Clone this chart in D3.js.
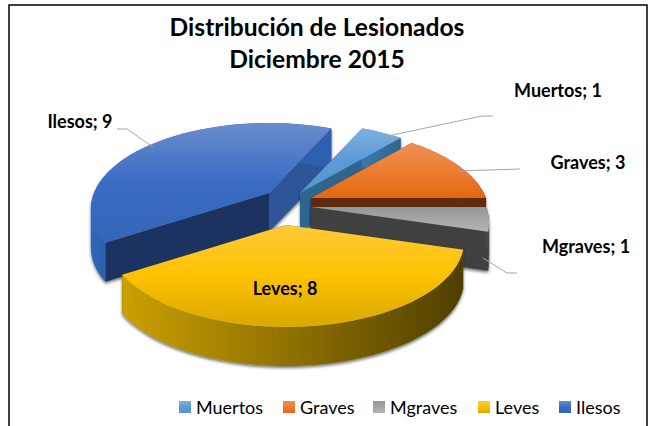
<!DOCTYPE html>
<html>
<head>
<meta charset="utf-8">
<script src="https://cdnjs.cloudflare.com/ajax/libs/d3/7.8.5/d3.min.js"></script>
<style>
  html, body { margin: 0; padding: 0; background: #fff; }
  svg { display: block; }
  text { font-family: Lato, "Open Sans", sans-serif; fill: #000; }
</style>
</head>
<body>
<svg id="chart" width="659" height="426"></svg>
<script>
// chart data
const categories = ["Muertos", "Graves", "Mgraves", "Leves", "Ilesos"]
const values = [1, 3, 1, 8, 9]
const titleLines = ["Distribución de Lesionados", "Diciembre 2015"]

// top face: light, mid, low stops
const topColors = [
    ["#7fb0de", "#5b9bd5", "#5596d2"],
    ["#ee9055", "#ed7d31", "#e2680f"],
    ["#969696", "#a5a5a5", "#b4b4b4"],
    ["#ffca38", "#fdc200", "#d9a900"],
    ["#6b8ccc", "#3a6cc4", "#3565b8"]
]
// outer rim: left colour, right colour
const rimColors = [
    ["#3a77ad", "#2f6690"],
    ["#6b330a", "#5e2a08"],
    ["#4a4a4a", "#404040"],
    ["#cba000", "#4f3f00"],
    ["#2f66bd", "#2f5fae"]
]
// cut walls: the one at the slice start, the one at the slice end
const wallColors = [
    ["#2f6690", "#2f6690"],
    ["#5e2a08", "#5e2a08"],
    ["#404040", "#404040"],
    ["#7a6000", "#7a6000"],
    ["#1b3360", "#2f5597"]
]
// where the tip of each exploded slice lands
const tips = [[300, 193], [311, 198], [311, 207], [286, 225], [269, 193]]
const paintOrder = [4, 0, 1, 2, 3]

const labels = [
    {i: 0, x: 558, y: 97},
    {i: 1, x: 588, y: 169},
    {i: 2, x: 586, y: 253},
    {i: 3, x: 285, y: 295},
    {i: 4, x: 80, y: 128}
]
const leaders = [
    [[383, 137], [482, 116], [493, 116]],
    [[458, 171], [520, 169]],
    [[483, 258], [507, 273], [517, 273]],
    [[153, 147], [127, 129], [117, 129]]
]
const legendX = [179, 283, 373, 478, 559]

const radius = 175
const tiltY = 83
const persp = 0.186
const depth = 39

const svg = d3.select("#chart")
const defs = svg.append("defs")

defs.append("filter")
    .attr("id", "soft")
    .attr("x", "-10%").attr("y", "-10%")
    .attr("width", "120%").attr("height", "125%")
    .append("feDropShadow")
    .attr("dx", 0).attr("dy", 2)
    .attr("stdDeviation", 1.8)
    .attr("flood-color", "#000")
    .attr("flood-opacity", 0.55)

// frame
svg.append("path")
    .attr("d", "M9,426V5H647V426")
    .attr("fill", "none")
    .attr("stroke", "#000")
    .attr("stroke-width", 1.5)

svg.selectAll("text.title")
    .data(titleLines)
    .join("text")
    .attr("class", "title")
    .attr("x", 317)
    .attr("y", (d, i) => 36 + i * 32)
    .attr("text-anchor", "middle")
    .attr("font-size", 24.6)
    .attr("font-weight", 700)
    .text((d) => d)

const pie = d3.pie().sort(null).startAngle(24.6 * Math.PI / 180).endAngle((360 + 24.6) * Math.PI / 180)
const arcs = pie(values)

// pie angle -> page position, flattened and shrunk towards the back
var project = function(tip, angle, r, drop) {
    const u = Math.sin(angle) * r
    const v = Math.cos(angle) * r
    const f = 1 / (1 + persp * v)
    return [tip[0] + u * f * radius, tip[1] - v * f * tiltY + drop]
}

const line = d3.line()

var rimPoints = function(tip, d, drop) {
    return d3.range(0, 41).map((k) => {
        const a = d.startAngle + (d.endAngle - d.startAngle) * k / 40
        return project(tip, a, 1, drop)
    })
}

var drawSlice = function(i) {
    const d = arcs[i]
    const tip = tips[i]
    const g = svg.append("g").attr("class", "slice").attr("filter", "url(#soft)")
    const top = rimPoints(tip, d, 0)
    const bottom = rimPoints(tip, d, depth)

    const topGrad = defs.append("linearGradient")
        .attr("id", "top" + i)
        .attr("x1", 0).attr("y1", 0).attr("x2", 0).attr("y2", 1)
    topGrad.selectAll("stop")
        .data(topColors[i])
        .join("stop")
        .attr("offset", (c, k) => k / 2)
        .attr("stop-color", (c) => c)

    const rimGrad = defs.append("linearGradient")
        .attr("id", "rim" + i)
        .attr("x1", 0).attr("y1", 0).attr("x2", 1).attr("y2", 0)
    rimGrad.selectAll("stop")
        .data(rimColors[i])
        .join("stop")
        .attr("offset", (c, k) => k)
        .attr("stop-color", (c) => c)

    // cut walls
    const ends = [top[0], top[40]]
    ends.forEach((p, k) => {
        g.append("path")
            .attr("d", line([tip, p, [p[0], p[1] + depth], [tip[0], tip[1] + depth]]) + "Z")
            .attr("fill", wallColors[i][k])
    })

    // one band per stretch between the rim's left and right extremes,
    // a single band folds over itself there and leaves a hole
    const cuts = [0, d3.leastIndex(top, (p) => p[0]), d3.greatestIndex(top, (p) => p[0]), 40].sort((a, b) => a - b)
    d3.pairs(cuts).forEach(([from, to]) => {
        if (from == to) return
        g.append("path")
            .attr("d", line(top.slice(from, to + 1).concat(bottom.slice(from, to + 1).reverse())) + "Z")
            .attr("fill", "url(#rim" + i + ")")
    })

    g.append("path")
        .attr("d", line([tip].concat(top)) + "Z")
        .attr("fill", "url(#top" + i + ")")
}

paintOrder.forEach(drawSlice)

svg.selectAll("path.leader")
    .data(leaders)
    .join("path")
    .attr("class", "leader")
    .attr("d", (d) => line(d))
    .attr("fill", "none")
    .attr("stroke", "#a6a6a6")
    .attr("stroke-width", 1)

svg.selectAll("text.label")
    .data(labels)
    .join("text")
    .attr("class", "label")
    .attr("x", (d) => d.x)
    .attr("y", (d) => d.y)
    .attr("text-anchor", "middle")
    .attr("font-size", 18)
    .attr("font-weight", 700)
    .text((d) => categories[d.i] + "; " + values[d.i])

const legend = svg.selectAll("g.legend")
    .data(categories)
    .join("g")
    .attr("class", "legend")
    .attr("transform", (d, i) => "translate(" + legendX[i] + ",401)")

legend.append("rect")
    .attr("width", 12)
    .attr("height", 12)
    .attr("fill", (d, i) => "url(#top" + i + ")")

legend.append("text")
    .attr("x", 17)
    .attr("y", 13)
    .attr("font-size", 18)
    .text((d) => d)
</script>
</body>
</html>
